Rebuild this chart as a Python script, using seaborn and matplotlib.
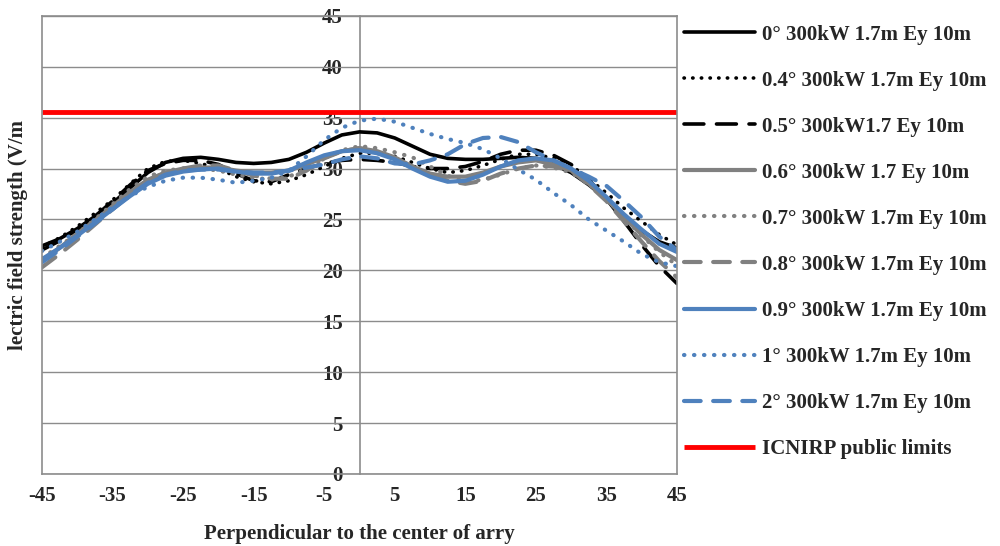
import numpy as np
import pandas as pd
import matplotlib
matplotlib.use("Agg")
import matplotlib.pyplot as plt
import seaborn as sns

# distance from the array centre (m), every 2.5 m
dist = [-45, -42.5, -40, -37.5, -35, -32.5, -30, -27.5, -25, -22.5, -20, -17.5, -15, -12.5,
        -10, -7.5, -5, -2.5, 0, 2.5, 5, 7.5, 10, 12.5, 15, 17.5, 20, 22.5, 25, 27.5, 30,
        32.5, 35, 37.5, 40, 42.5, 45]

# electric field strength (V/m)
e_0 = [22.4, 23.1, 24.1, 25.3, 26.6, 28.1, 29.6, 30.6, 31.0, 31.1, 30.9, 30.6, 30.5, 30.6,
       30.9, 31.6, 32.5, 33.3, 33.6, 33.5, 33.0, 32.2, 31.4, 31.0, 30.9, 30.9, 31.0, 31.1,
       31.0, 30.4, 29.6, 28.4, 27.0, 25.4, 23.9, 22.8, 22.2]
e_04 = [22.3, 23.2, 24.3, 25.6, 26.9, 28.5, 30.0, 30.7, 30.8, 30.5, 30.0, 29.2, 28.7, 28.5,
        28.8, 29.4, 30.2, 31.0, 31.5, 31.5, 31.2, 30.6, 30.0, 29.6, 29.8, 30.3, 30.9, 31.4,
        31.4, 31.0, 30.3, 29.0, 27.6, 26.1, 24.8, 23.5, 22.5]
e_05 = [22.0, 22.9, 24.0, 25.3, 26.8, 28.4, 29.8, 30.5, 30.8, 30.8, 30.4, 29.5, 28.8, 28.7,
        29.4, 30.0, 30.5, 30.8, 30.9, 30.8, 30.6, 30.2, 30.0, 30.0, 30.2, 30.7, 31.4, 31.8,
        31.8, 31.3, 30.4, 28.9, 27.0, 24.8, 22.5, 20.4, 18.7]
e_06 = [21.0, 22.2, 23.6, 24.9, 26.3, 27.7, 28.9, 29.6, 30.0, 30.1, 30.1, 29.8, 29.6, 29.6,
        29.8, 30.4, 31.1, 31.7, 32.0, 31.7, 31.1, 30.2, 29.5, 29.2, 29.2, 29.6, 30.2, 30.6,
        30.8, 30.4, 29.8, 28.5, 27.0, 25.2, 23.5, 22.0, 21.0]
e_07 = [21.2, 22.4, 23.6, 25.0, 26.5, 28.0, 29.2, 29.8, 30.0, 30.0, 29.8, 29.4, 29.1, 28.9,
        29.2, 30.0, 31.0, 31.8, 32.2, 32.0, 31.6, 31.1, 30.2, 29.3, 28.7, 28.9, 29.4, 30.0,
        30.3, 30.1, 29.6, 28.5, 27.0, 25.2, 23.4, 21.8, 20.5]
e_08 = [20.3, 21.6, 23.0, 24.5, 26.0, 27.5, 28.8, 29.6, 30.0, 30.3, 30.3, 29.8, 29.3, 29.0,
        29.0, 29.8, 31.0, 31.7, 32.0, 31.6, 31.0, 30.1, 29.4, 28.8, 28.5, 28.8, 29.5, 30.0,
        30.3, 30.2, 29.8, 28.4, 26.8, 24.8, 22.8, 20.9, 19.3]
e_09 = [21.1, 22.2, 23.4, 24.7, 26.0, 27.3, 28.5, 29.3, 29.7, 29.9, 30.0, 29.7, 29.5, 29.5,
        29.8, 30.6, 31.3, 31.7, 31.8, 31.5, 30.9, 30.0, 29.2, 28.7, 28.8, 29.4, 30.2, 30.8,
        31.0, 30.8, 30.0, 28.8, 27.2, 25.5, 24.0, 22.6, 21.8]
e_1 = [21.9, 22.8, 23.8, 25.0, 26.2, 27.3, 28.2, 28.8, 29.1, 29.1, 28.9, 28.6, 28.8, 29.1,
       29.8, 31.2, 32.8, 34.0, 34.7, 34.9, 34.6, 34.0, 33.4, 32.9, 32.5, 31.9, 31.0, 29.9,
       28.9, 27.6, 26.4, 25.0, 23.9, 22.8, 21.6, 20.8, 20.4]
e_2 = [20.8, 22.0, 23.3, 24.6, 26.0, 27.4, 28.6, 29.4, 29.8, 29.9, 29.9, 29.7, 29.6, 29.6,
       29.8, 30.1, 30.4, 30.9, 31.2, 31.0, 30.5, 30.4, 30.8, 31.4, 32.4, 33.0, 33.1, 32.6,
       31.6, 30.8, 30.0, 29.2, 28.3, 26.8, 25.2, 23.3, 22.0]
icnirp = 35.6

labels = ["0° 300kW 1.7m Ey 10m", "0.4° 300kW 1.7m Ey 10m", "0.5° 300kW1.7 Ey 10m",
          "0.6° 300kW 1.7 Ey 10m", "0.7° 300kW 1.7m Ey 10m", "0.8° 300kW 1.7m Ey 10m",
          "0.9° 300kW 1.7m Ey 10m", "1° 300kW 1.7m Ey 10m", "2° 300kW 1.7m Ey 10m"]
series = [e_0, e_04, e_05, e_06, e_07, e_08, e_09, e_1, e_2]

black, grey, blue = "#000000", "#808080", "#4F81BD"
solid, dotted = "-", (0, (0.1, 2.3))
colors = [black, black, black, grey, grey, grey, blue, blue, blue]
styles = [solid, dotted, (0, (5.5, 3.5)), solid, dotted, (0, (4, 3)), solid, dotted, (0, (4, 3))]
widths = [2.6, 2.6, 2.6, 3.0, 3.0, 3.0, 3.0, 3.0, 3.0]

sns.set_style("white")
plt.rcParams['font.family'] = ['Liberation Serif', 'DejaVu Serif']
plt.rcParams['font.weight'] = 'bold'
plt.rcParams['axes.unicode_minus'] = False

fig = plt.figure(figsize=(10, 5.46), dpi=100)
ax = fig.add_axes([0.042, 0.132, 0.635, 0.839])

for vals, lab, c, ls, lw in zip(series, labels, colors, styles, widths):
    ln = sns.lineplot(x=dist, y=vals, color=c, lw=lw, label=lab, ax=ax)
    ln.lines[-1].set_linestyle(ls)
    ln.lines[-1].set_dash_capstyle("round")

ax.axhline(icnirp, color="#FF0000", lw=3.5, label="ICNIRP public limits", solid_capstyle="butt")

ax.set_xlim(-45, 45)
ax.set_ylim(0, 45)
ax.set_xticks(np.arange(-45, 46, 10))
ax.set_yticks(np.arange(0, 46, 5))
ax.yaxis.grid(True, color="#8c8c8c", lw=1)
ax.set_axisbelow(True)
ax.tick_params(axis="y", left=False, labelleft=False)
ax.tick_params(axis="x", length=0, pad=9, labelsize=15)
for s in ax.spines.values():
    s.set_color("#8c8c8c")
    s.set_linewidth(1.2)

# Excel-style vertical axis crossing at x = 0
yax = ax.secondary_yaxis(0.5)
yax.set_alignment("left")
yax.set_yticks(np.arange(0, 46, 5))
yax.tick_params(length=0, pad=12, labelsize=15)
for s in yax.spines.values():
    s.set_color("#8c8c8c")
    s.set_linewidth(1.2)

ax.set_xlabel("Perpendicular to the center of arry", fontsize=15, fontweight="bold", labelpad=13)
fig.text(0.018, 0.57, "lectric field strength (V/m", rotation=90, fontsize=15,
         fontweight="bold", ha="center", va="center")

handles, labs = ax.get_legend_handles_labels()
ax.get_legend().remove()
fig.legend(handles, labs, loc="upper left", bbox_to_anchor=(0.684, 0.955), frameon=False,
           borderpad=0, borderaxespad=0,
           fontsize=15, handlelength=3.4, handletextpad=0.35, labelspacing=1.25)

fig.savefig("out.png", dpi=100)
